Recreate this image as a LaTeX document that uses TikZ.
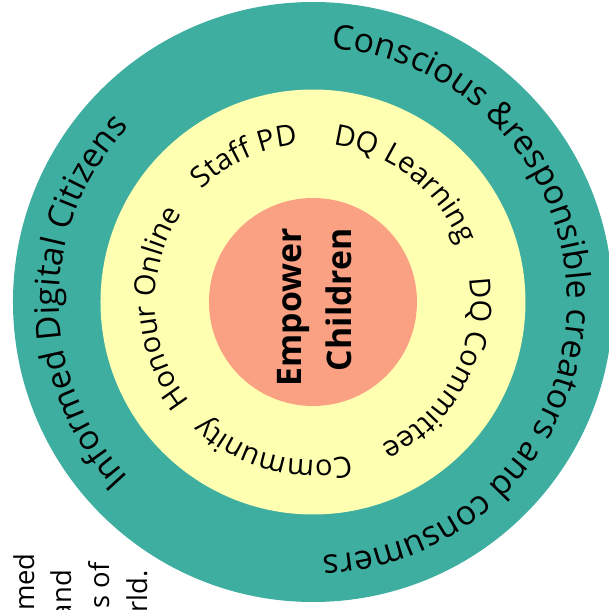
\documentclass[tikz,border=0pt]{standalone}
\usepackage{fontspec}
\setmainfont{Open Sans}
\usetikzlibrary{decorations.text}
\definecolor{ringteal}{RGB}{62,174,160}
\definecolor{ringyellow}{RGB}{255,255,178}
\definecolor{coresalmon}{RGB}{250,161,131}
\newcommand{\outerfont}{\fontsize{32.1}{38}\selectfont}
\newcommand{\innerfont}{\fontsize{27.5}{33}\selectfont}
\tikzset{
  ringtext/.style={decorate, decoration={text along path, text align=center, text={#1}}},
  cuttext/.style={rotate=90, anchor=base east, inner sep=0pt, font=\fontsize{26}{31}\selectfont}
}
\begin{document}
\begin{tikzpicture}
    \useasboundingbox (-10.433,-10.267) rectangle (9.867,10.067);
    \clip (-10.433,-10.267) rectangle (9.867,10.067);
    \fill[ringteal] (0,0) circle (10);
    \fill[ringyellow] (0,0) circle (7.083);
    \fill[coresalmon] (0,0) circle (3.467);
    % outer ring
    \path[ringtext={|\outerfont|Informed Digital Citizens}] (260:8.467) arc[start angle=260, end angle=100, radius=8.467];
    \path[ringtext={|\outerfont|Conscious {\&}responsible creators and consumers}] (95:8.467) arc[start angle=95, end angle=-97, radius=8.467];
    % inner ring
    \path[ringtext={|\innerfont|Staff PD}] (195:5.267) arc[start angle=195, end angle=35, radius=5.267];
    \path[ringtext={|\innerfont|DQ Learning}] (132:5.267) arc[start angle=132, end angle=-28, radius=5.267];
    \path[ringtext={|\innerfont|DQ Committee}] (52:5.267) arc[start angle=52, end angle=-108, radius=5.267];
    \path[ringtext={|\innerfont|Community}] (-25:5.267) arc[start angle=-25, end angle=-185, radius=5.267];
    \path[ringtext={|\innerfont|Honour Online}] (262.5:5.267) arc[start angle=262.5, end angle=102.5, radius=5.267];
    \node[rotate=90, align=right, inner sep=0pt, font=\fontsize{32.1}{47.2}\selectfont\bfseries] (core) at (0.05,-0.18) {Empower\\Children};
    % cut-off text, lower left
    \node[cuttext] (cut1) at (-9.267,-8.367) {med};
    \node[cuttext] (cut2) at (-8.033,-8.933) {and};
    \node[cuttext] (cut3) at (-6.767,-8.667) {s of};
    \node[cuttext] (cut4) at (-5.5,-8.933) {rld.};
\end{tikzpicture}
\end{document}
